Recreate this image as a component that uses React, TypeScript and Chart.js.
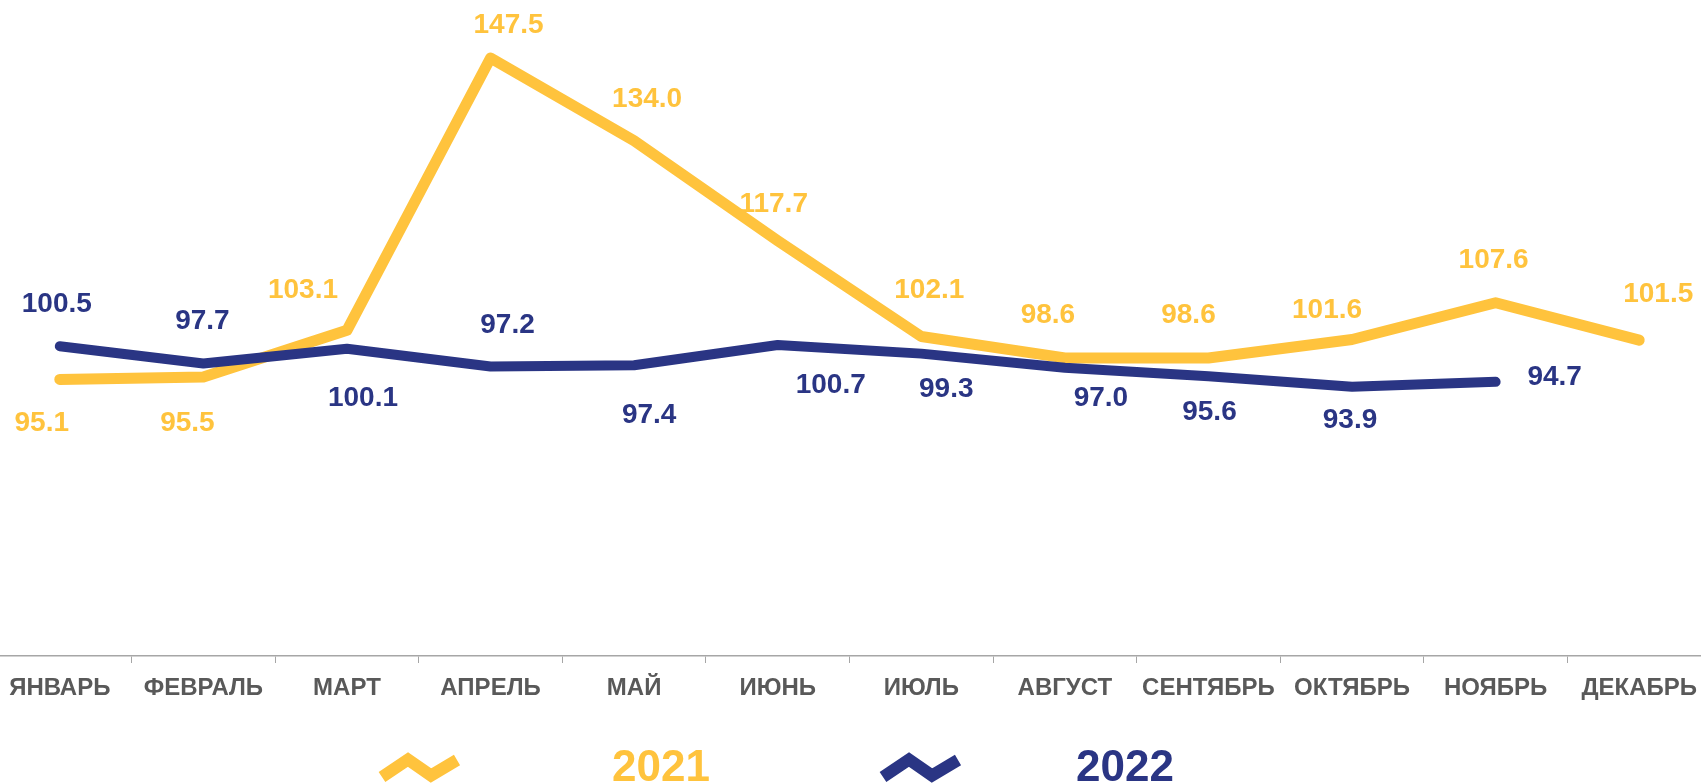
import React, { useEffect, useRef } from "react";
import { Chart, registerables } from "chart.js";

Chart.register(...registerables);

// ---- data ----
const months = [
  "ЯНВАРЬ",
  "ФЕВРАЛЬ",
  "МАРТ",
  "АПРЕЛЬ",
  "МАЙ",
  "ИЮНЬ",
  "ИЮЛЬ",
  "АВГУСТ",
  "СЕНТЯБРЬ",
  "ОКТЯБРЬ",
  "НОЯБРЬ",
  "ДЕКАБРЬ",
];
const values2021 = [95.1, 95.5, 103.1, 147.5, 134.0, 117.7, 102.1, 98.6, 98.6, 101.6, 107.6, 101.5];
const values2022 = [100.5, 97.7, 100.1, 97.2, 97.4, 100.7, 99.3, 97.0, 95.6, 93.9, 94.7, null];
const seriesNames = ["2021", "2022"];
const yMin = 50;
const yMax = 155;

// ---- styling / layout (not data) ----
const COLOR_2021 = "#FFC33D";
const COLOR_2022 = "#2A3584";
const FONT = '"Liberation Sans", Arial, Helvetica, sans-serif';
const CANVAS_SHIFT = 12; // canvas is shifted 12px left of the page

// value label offsets relative to each point (px)
const labelOffsets2021 = [
  [-18, 42], [-16, 44], [-44, -42], [18, -35], [13, -44], [-4, -39],
  [8, -48], [-17, -45], [-20, -45], [-25, -32], [-2, -45], [19, -48],
];
const labelOffsets2022 = [
  [-3, -44], [-1, -44], [16, 47], [17, -44], [15, 48], [53, 38],
  [25, 33], [36, 28], [1, 34], [-2, 31], [59, -7], [0, 0],
];

const valueLabelPlugin = {
  id: "valueLabels",
  afterDatasetsDraw(chart: any, _args: any, opts: any) {
    const ctx = chart.ctx;
    chart.data.datasets.forEach((ds: any, di: number) => {
      const meta = chart.getDatasetMeta(di);
      const offs = opts.offsets[di];
      meta.data.forEach((pt: any, i: number) => {
        const v = ds.data[i];
        if (v === null || v === undefined) return;
        const [dx, dy] = offs[i];
        ctx.save();
        ctx.font = `bold 28px ${FONT}`;
        ctx.fillStyle = ds.borderColor;
        ctx.textAlign = "center";
        ctx.textBaseline = "alphabetic";
        ctx.fillText(Number(v).toFixed(1), pt.x + dx, pt.y + dy + 10);
        ctx.restore();
      });
    });
  },
};

const legendPlugin = {
  id: "customLegend",
  afterDraw(chart: any, _args: any, opts: any) {
    const ctx = chart.ctx;
    const items = opts.items;
    items.forEach((it: any) => {
      const ox = it.iconX + CANVAS_SHIFT;
      ctx.save();
      ctx.strokeStyle = it.color;
      ctx.lineWidth = 12;
      ctx.lineCap = "butt";
      ctx.lineJoin = "miter";
      ctx.beginPath();
      ctx.moveTo(ox, 777);
      ctx.lineTo(ox + 26, 759.5);
      ctx.lineTo(ox + 49, 775.5);
      ctx.lineTo(ox + 75, 760);
      ctx.stroke();
      ctx.font = `bold 44px ${FONT}`;
      ctx.fillStyle = it.color;
      ctx.textAlign = "left";
      ctx.textBaseline = "alphabetic";
      ctx.fillText(it.text, it.textX + CANVAS_SHIFT, 781);
      ctx.restore();
    });
  },
};

export default function App() {
  const canvasRef = useRef<HTMLCanvasElement | null>(null);

  useEffect(() => {
    const canvas = canvasRef.current;
    if (!canvas) return;
    const chart = new Chart(canvas, {
      type: "line",
      data: {
        labels: months,
        datasets: [
          {
            label: seriesNames[0],
            data: values2021,
            borderColor: COLOR_2021,
            backgroundColor: COLOR_2021,
            borderWidth: 11,
            borderCapStyle: "round",
            borderJoinStyle: "round",
            pointRadius: 0,
            pointHoverRadius: 0,
            tension: 0,
            fill: false,
            order: 2,
          },
          {
            label: seriesNames[1],
            data: values2022,
            borderColor: COLOR_2022,
            backgroundColor: COLOR_2022,
            borderWidth: 10,
            borderCapStyle: "round",
            borderJoinStyle: "round",
            pointRadius: 0,
            pointHoverRadius: 0,
            tension: 0,
            fill: false,
            spanGaps: false,
            order: 1,
          },
        ],
      } as any,
      options: {
        responsive: false,
        maintainAspectRatio: false,
        animation: false,
        devicePixelRatio: 1,
        layout: { padding: { top: 12, left: 0, right: 0, bottom: 0 } },
        plugins: {
          legend: { display: false },
          tooltip: { enabled: false },
          title: { display: false },
          valueLabels: { offsets: [labelOffsets2021, labelOffsets2022] },
          customLegend: {
            items: [
              { text: seriesNames[0], color: COLOR_2021, iconX: 382, textX: 612 },
              { text: seriesNames[1], color: COLOR_2022, iconX: 883, textX: 1076 },
            ],
          },
        } as any,
        scales: {
          x: {
            type: "category",
            offset: true,
            grid: {
              display: true,
              drawOnChartArea: false,
              drawTicks: true,
              tickLength: 7,
              color: "#a6a6a6",
              lineWidth: 1,
              offset: true,
            },
            border: { display: true, color: "#a6a6a6", width: 1.5 },
            ticks: {
              color: "#595959",
              font: { family: FONT, size: 24, weight: "bold" },
              padding: 11,
              maxRotation: 0,
              minRotation: 0,
              autoSkip: false,
            },
            afterFit: (s: any) => {
              s.height = 128;
            },
          },
          y: {
            display: false,
            min: yMin,
            max: yMax,
          },
        },
      } as any,
      plugins: [valueLabelPlugin, legendPlugin],
    });
    return () => chart.destroy();
  }, []);

  return (
    <div
      style={{
        position: "fixed",
        left: 0,
        top: 0,
        width: 1701,
        height: 784,
        overflow: "hidden",
        background: "#ffffff",
      }}
    >
      <canvas
        ref={canvasRef}
        width={1723}
        height={784}
        style={{ position: "absolute", left: -CANVAS_SHIFT, top: 0, width: 1723, height: 784 }}
      />
    </div>
  );
}
